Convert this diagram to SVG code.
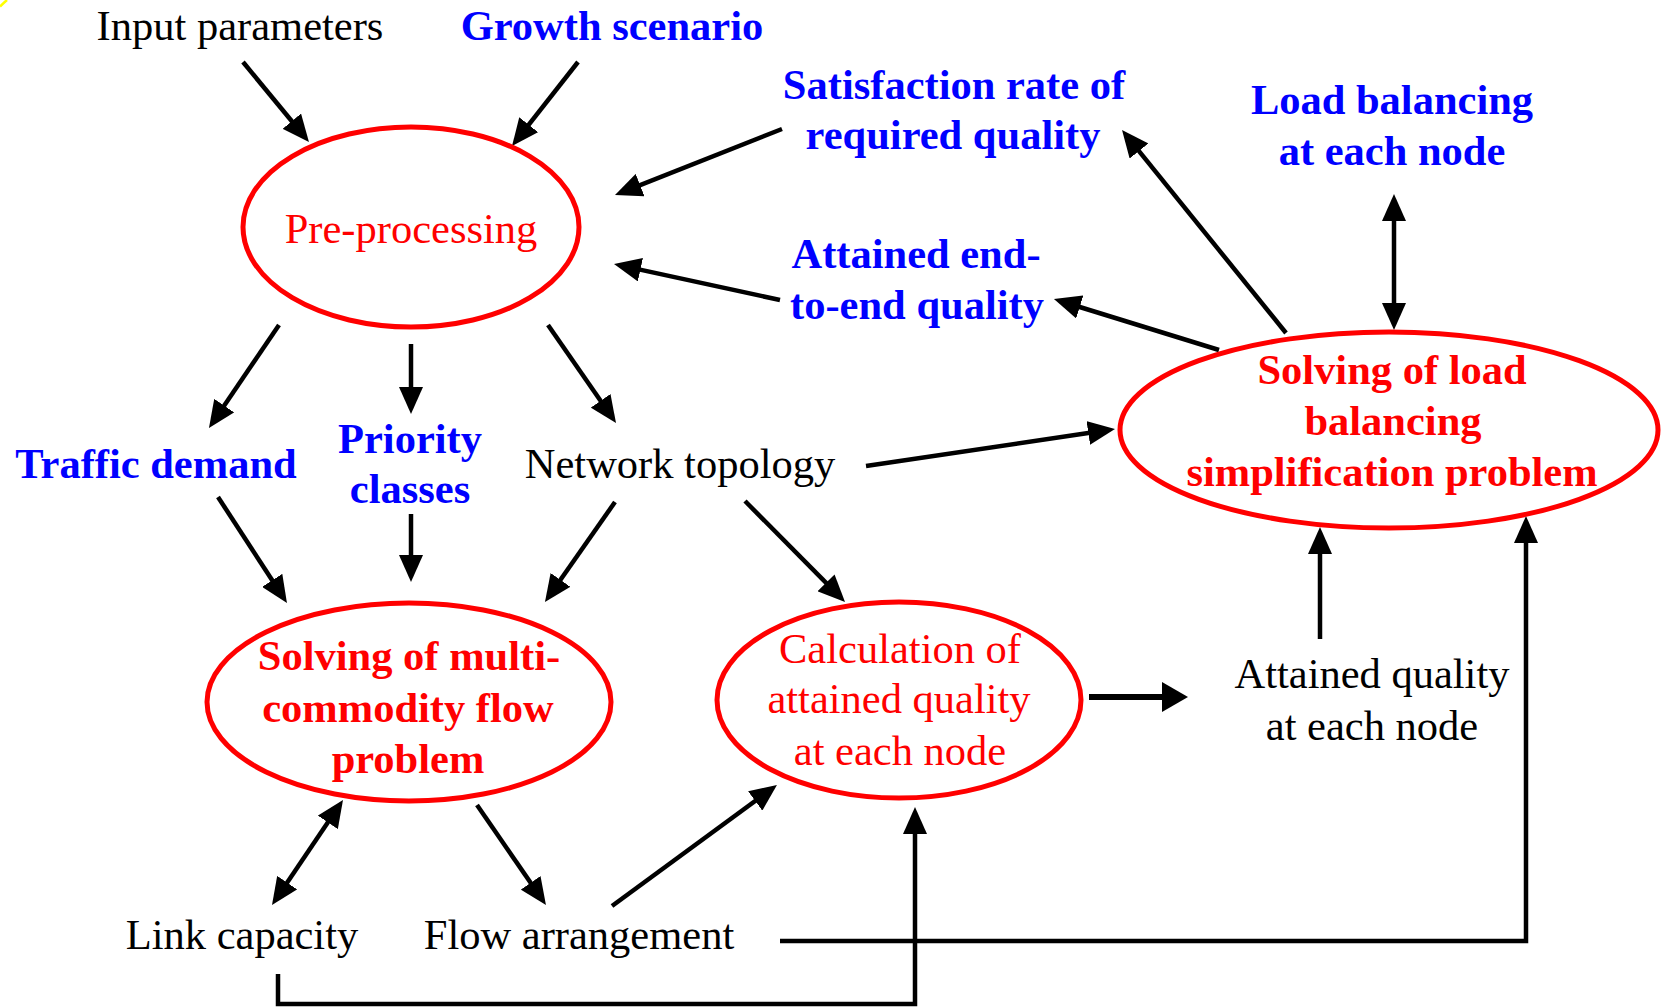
<svg xmlns="http://www.w3.org/2000/svg" width="1669" height="1007" viewBox="0 0 1669 1007">
  <style>
    text { font-family: "Liberation Serif", "Times New Roman", serif; font-size: 42.5px; text-anchor: middle; }
    .blk { fill: #000000; }
    .blu { fill: #0000ff; font-weight: bold; }
    .red { fill: #ff0000; }
    .redb { fill: #ff0000; font-weight: bold; }
    .node { fill: none; stroke: #ff0000; stroke-width: 5; }
    .edge { fill: none; stroke: #000000; stroke-width: 4.5; stroke-linejoin: miter; marker-end: url(#head); }
    .both { marker-start: url(#head); }
    .thick { stroke-width: 6; marker-end: url(#headBig); }
  </style>
  <defs>
    <marker id="head" markerUnits="userSpaceOnUse" markerWidth="27" markerHeight="24" refX="17" refY="12" orient="auto-start-reverse">
      <path d="M0,0 L27,12 L0,24 z" fill="#000000"/>
    </marker>
    <marker id="headBig" markerUnits="userSpaceOnUse" markerWidth="26" markerHeight="30" refX="14" refY="15" orient="auto">
      <path d="M0,0 L26,15 L0,30 z" fill="#000000"/>
    </marker>
  </defs>

  <rect width="1669" height="1007" fill="#ffffff"/>
  <path d="M0,6.5 Q3,3.5 7,0" fill="none" stroke="#ffff00" stroke-width="2.5"/>

  <!-- connectors -->
  <g id="connectors">
    <path class="edge" d="M243,62 L302.6,134.3"/>
    <path class="edge" d="M578,62 L518.2,138.1"/>
    <path class="edge" d="M782,129 L624.3,191.3"/>
    <path class="edge" d="M780,300 L623.8,266.1"/>
    <path class="edge" d="M1219,350 L1063.5,302"/>
    <path class="edge" d="M1286,333 L1128.3,137.8"/>
    <path class="edge both" d="M1394,204 L1394,320"/>
    <path class="edge" d="M866,466 L1105.1,430.5"/>
    <path class="edge" d="M279,325 L214.6,419.7"/>
    <path class="edge" d="M411,344 L411,404"/>
    <path class="edge" d="M548,325 L610.3,414.8"/>
    <path class="edge" d="M218,497 L281.5,594.6"/>
    <path class="edge" d="M411,514 L411,572"/>
    <path class="edge" d="M615,502 L550.7,593.8"/>
    <path class="edge" d="M745,501 L838,594.9"/>
    <path class="edge both" d="M337.4,808.3 L277.6,896.7"/>
    <path class="edge" d="M477,805 L540.3,896.8"/>
    <path class="edge" d="M612,906 L768.9,790.9"/>
    <path class="edge thick" d="M1089,697 L1176,697"/>
    <path class="edge" d="M1320,639 L1320,537"/>
    <path class="edge" d="M780,941 H1526 V526"/>
    <path class="edge" d="M278,974 V1004 H915 V817"/>
  </g>

  <!-- process nodes -->
  <g id="pre-processing">
    <ellipse class="node" cx="411" cy="227" rx="168" ry="100"/>
    <text class="red" x="411" y="243">Pre-processing</text>
  </g>
  <g id="load-balancing-problem">
    <ellipse class="node" cx="1389" cy="430" rx="269" ry="98"/>
    <text class="redb" x="1392" y="384">Solving of load</text>
    <text class="redb" x="1393" y="435">balancing</text>
    <text class="redb" x="1392" y="486">simplification problem</text>
  </g>
  <g id="multi-commodity-problem">
    <ellipse class="node" cx="409" cy="702" rx="202" ry="99"/>
    <text class="redb" x="409" y="670">Solving of multi-</text>
    <text class="redb" x="408" y="722">commodity flow</text>
    <text class="redb" x="408" y="773">problem</text>
  </g>
  <g id="quality-calculation">
    <ellipse class="node" cx="899" cy="700" rx="182" ry="98"/>
    <text class="red" x="900" y="663">Calculation of</text>
    <text class="red" x="899" y="713">attained quality</text>
    <text class="red" x="900" y="765">at each node</text>
  </g>

  <!-- data nodes -->
  <g id="input-parameters">
    <text class="blk" x="240" y="40">Input parameters</text>
  </g>
  <g id="growth-scenario">
    <text class="blu" x="612" y="40">Growth scenario</text>
  </g>
  <g id="satisfaction-rate">
    <text class="blu" x="954" y="99">Satisfaction rate of</text>
    <text class="blu" x="953" y="149">required quality</text>
  </g>
  <g id="load-balancing">
    <text class="blu" x="1392" y="114">Load balancing</text>
    <text class="blu" x="1392" y="165">at each node</text>
  </g>
  <g id="end-to-end-quality">
    <text class="blu" x="916" y="268">Attained end-</text>
    <text class="blu" x="917" y="319">to-end quality</text>
  </g>
  <g id="traffic-demand">
    <text class="blu" x="156" y="478">Traffic demand</text>
  </g>
  <g id="priority-classes">
    <text class="blu" x="410" y="453">Priority</text>
    <text class="blu" x="410" y="503">classes</text>
  </g>
  <g id="network-topology">
    <text class="blk" x="680" y="478">Network topology</text>
  </g>
  <g id="attained-quality">
    <text class="blk" x="1372" y="688">Attained quality</text>
    <text class="blk" x="1372" y="740">at each node</text>
  </g>
  <g id="link-capacity">
    <text class="blk" x="242" y="949">Link capacity</text>
  </g>
  <g id="flow-arrangement">
    <text class="blk" x="579" y="949">Flow arrangement</text>
  </g>
</svg>
